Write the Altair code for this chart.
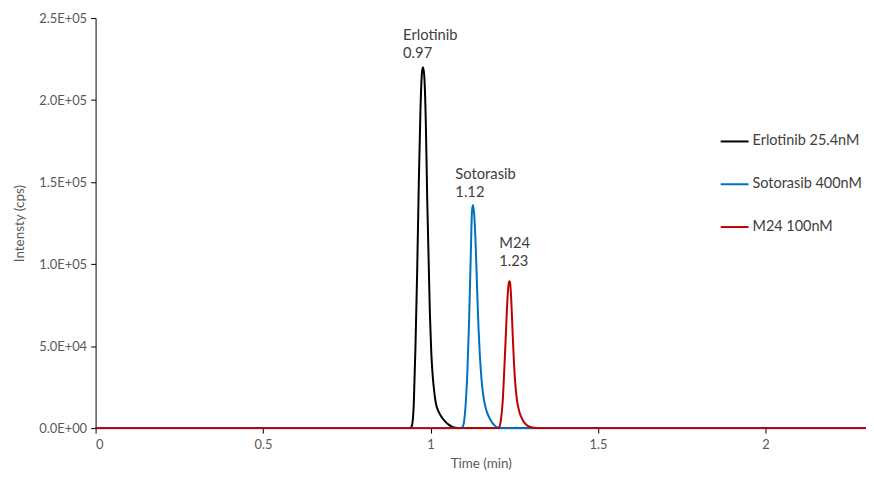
import altair as alt
import pandas as pd

# ---- data ----
series_names = ["Erlotinib 25.4nM", "Sotorasib 400nM", "M24 100nM"]
series_colors = ["#000000", "#0070C0", "#C00000"]

erl_t = [0.0, 0.940, 0.945, 0.950, 0.955, 0.960, 0.965, 0.970, 0.975, 0.978, 0.982, 0.986,
         0.990, 0.994, 0.998, 1.002, 1.006, 1.010, 1.016, 1.024, 1.034, 1.044, 1.055,
         1.065, 1.075, 1.090, 2.3]
erl_i = [0, 0, 2000, 15000, 50000, 95000, 150000, 195000, 218000, 220000, 212000, 185000,
         140000, 105000, 70000, 47000, 33000, 24000, 15000, 10000, 6500, 4000, 2000,
         800, 200, 0, 0]

sot_t = [0.0, 1.090, 1.095, 1.100, 1.105, 1.110, 1.115, 1.120, 1.124, 1.127, 1.131, 1.135,
         1.139, 1.143, 1.147, 1.152, 1.158, 1.165, 1.175, 1.185, 1.195, 1.205, 1.215, 2.3]
sot_i = [0, 0, 500, 4000, 15000, 35000, 65000, 105000, 133000, 136000, 128000, 110000,
         85000, 62000, 45000, 30000, 19000, 12000, 6500, 3000, 1000, 200, 0, 0]

m24_t = [0.0, 1.200, 1.205, 1.210, 1.215, 1.220, 1.225, 1.230, 1.234, 1.237, 1.241, 1.245,
         1.249, 1.253, 1.258, 1.265, 1.275, 1.285, 1.295, 1.310, 1.320, 2.3]
m24_i = [0, 0, 500, 5000, 15000, 35000, 58000, 80000, 89500, 89000, 78000, 58000,
         40000, 27000, 17000, 10000, 5000, 2200, 900, 200, 0, 0]

label_text = [["Erlotinib", "0.97"], ["Sotorasib", "1.12"], ["M24", "1.23"]]
label_x = [0.918, 1.074, 1.205]
label_y = [244000, 159000, 117000]

x_ticks = [0, 0.5, 1, 1.5, 2]
y_ticks = [0, 50000, 100000, 150000, 200000, 250000]

# ---- tables ----
rows = []
for name, ts, vs in zip(series_names, [erl_t, sot_t, m24_t], [erl_i, sot_i, m24_i]):
    for i, (t, v) in enumerate(zip(ts, vs)):
        rows.append({"series": name, "t": t, "v": v, "order": i})
df = pd.DataFrame(rows)

lab = pd.DataFrame({"text": label_text, "x": label_x, "y": label_y})

FONT = "Lato"

x_scale = alt.Scale(domain=[0, 2.3], nice=False, zero=False)
y_scale = alt.Scale(domain=[0, 250000], nice=False)

y_expr = ("datum.value == 0 ? '0.0E+00' : (datum.value < 100000 ? "
          "format(datum.value/10000, '.1f') + 'E+04' : format(datum.value/100000, '.1f') + 'E+05')")

lines = alt.Chart(df).mark_line(strokeWidth=2, interpolate="monotone").encode(
    x=alt.X("t:Q", scale=x_scale,
            axis=alt.Axis(title="Time (min)", values=x_ticks, format="~g", grid=False,
                          domainColor="#000000", tickColor="#000000", tickSize=5,
                          labelPadding=5, titlePadding=6)),
    y=alt.Y("v:Q", scale=y_scale,
            axis=alt.Axis(title="Intensty (cps)", values=y_ticks, labelExpr=y_expr, grid=False,
                          domainColor="#000000", tickColor="#000000", tickSize=5,
                          labelPadding=4, titlePadding=12)),
    color=alt.Color("series:N",
                    scale=alt.Scale(domain=series_names, range=series_colors),
                    sort=series_names,
                    legend=alt.Legend(title=None, orient="none", legendX=627, legendY=109,
                                      symbolType="stroke", symbolSize=784, symbolStrokeWidth=2,
                                      labelFontSize=14.5, labelFont=FONT, labelColor="#404040",
                                      rowPadding=21, labelOffset=3, labelLimit=0)),
    order="order:Q",
)

labels = alt.Chart(lab).mark_text(align="left", baseline="top", font=FONT, fontSize=14.8,
                                  color="#404040", lineHeight=18).encode(
    x=alt.X("x:Q", scale=x_scale),
    y=alt.Y("y:Q", scale=y_scale),
    text="text",
)

chart = alt.layer(lines, labels).properties(
    width=774, height=412,
    autosize=alt.AutoSizeParams(type="none"),
    padding={"left": 88, "top": 9, "right": 0, "bottom": 42},
).configure_view(stroke=None).configure_axis(
    labelFont=FONT, titleFont=FONT, labelFontSize=13, titleFontSize=13.5,
    labelColor="#595959", titleColor="#595959", titleFontWeight="normal",
)

chart.save("out.html", embed_options={"renderer": "svg", "actions": False})
